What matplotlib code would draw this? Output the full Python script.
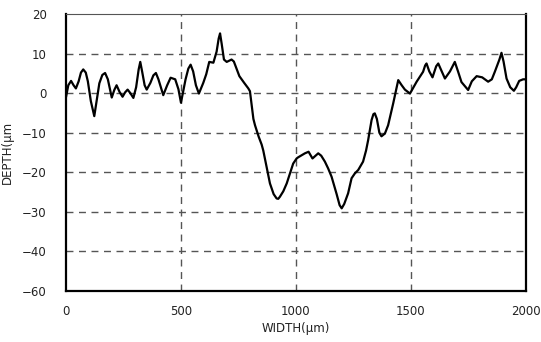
import matplotlib
matplotlib.use("Agg")
import matplotlib.pyplot as plt

width_um = [0, 10, 22, 33, 43, 55, 65, 75, 86, 95, 108, 123, 133, 145, 158, 170, 182, 199, 210, 220, 233, 246,
            257, 268, 280, 293, 305, 316, 323, 331, 342, 351, 367, 380, 391, 402, 423, 440, 455, 475, 489, 500,
            510, 520, 532, 542, 553, 565, 578, 597, 610, 623, 641, 655, 664, 670, 677, 687, 699, 720, 730, 754,
            775, 793, 800, 815, 822, 838, 851, 858, 872, 887, 903, 916, 923, 930, 945, 960,
            974, 988, 1003, 1010, 1039, 1055, 1072, 1097, 1110, 1126, 1140, 1155, 1177, 1190, 1199, 1210, 1227,
            1242, 1256, 1271, 1292, 1305, 1314, 1329, 1337, 1343, 1352, 1363, 1372, 1387, 1401, 1423, 1445,
            1460, 1474, 1496, 1525, 1553, 1562, 1568, 1580, 1594, 1610, 1619, 1632, 1648, 1670, 1691, 1705,
            1720, 1749, 1765, 1786, 1810, 1836, 1852, 1865, 1885, 1894, 1903, 1916, 1932, 1948, 1958, 1971,
            1988, 2000]
depth_um = [-1.0, 2.0, 3.1, 2.0, 1.2, 3.0, 5.2, 6.0, 5.2, 3.0, -2.0, -5.8, -2.0, 2.5, 4.6, 5.1, 3.5, -1.1, 0.8, 2.0, 0.3, -0.9,
            0.2, 0.9, 0.0, -1.2, 1.5, 6.0, 7.9, 5.5, 2.0, 0.9, 2.6, 4.5, 5.1, 3.5, -0.5, 2.0, 3.9, 3.5, 1.0, -2.4,
            0.5, 3.5, 6.2, 7.2, 5.5, 2.0, -0.1, 2.6, 4.8, 7.9, 7.7, 10.5, 13.8, 15.1, 12.5, 8.5, 7.9, 8.5, 8.0, 4.3,
            2.6, 1.2, 0.5, -6.5, -8.1, -11.0, -13.0, -14.5, -18.5, -22.8, -25.5, -26.6, -26.7, -26.2, -24.8, -22.8,
            -20.3, -17.8, -16.5, -16.2, -15.2, -14.8, -16.5, -15.2, -15.8, -17.3, -19.0, -21.1, -25.5, -28.3, -29.1, -28.0, -25.3,
            -21.5, -20.3, -19.4, -17.3, -14.5, -11.9, -6.8, -5.3, -5.1, -6.5, -10.0, -10.9, -10.2, -8.1, -2.6, 3.3,
            2.0, 0.9, -0.1, 2.9, 5.4, 7.0, 7.5, 5.5, 4.0, 6.8, 7.5, 5.8, 3.7, 5.5, 7.9, 5.5,
            2.8, 0.8, 3.0, 4.3, 4.0, 2.9, 3.5, 5.4, 8.5, 10.2, 8.0, 3.7, 1.5, 0.6, 1.5, 3.1,
            3.5, 3.5]

x_ticks = [0, 500, 1000, 1500, 2000]
x_tick_labels = ["0", "500", "1000", "1500", "2000"]
y_ticks = [20, 10, 0, -10, -20, -30, -40, -50]
y_tick_labels = ["20", "10", "0", "\u221210", "\u221220", "\u221230", "\u221240", "\u221260"]

fig = plt.figure(figsize=(5.41, 3.42), dpi=100)
ax = fig.add_axes([0.122, 0.149, 0.850, 0.810])

ax.plot(width_um, depth_um, color="black", lw=1.6, solid_joinstyle="round", solid_capstyle="round")

ax.set_xlim(0, 2000)
ax.set_ylim(-50, 20)
ax.set_xticks(x_ticks)
ax.set_xticklabels(x_tick_labels)
ax.set_yticks(y_ticks)
ax.set_yticklabels(y_tick_labels)
ax.tick_params(length=0, labelsize=8.5, pad=10, colors="#222222")
ax.tick_params(axis="y", pad=14)

for g in [500, 1000, 1500]:
    ax.axvline(g, color="#555555", lw=1.0, ls=(0, (5, 4)), zorder=0)
for g in [10, 0, -10, -20, -30, -40]:
    ax.axhline(g, color="#555555", lw=1.0, ls=(0, (5, 4)), zorder=0)

for s in ["left", "bottom", "right"]:
    ax.spines[s].set_linewidth(1.6)
    ax.spines[s].set_color("black")
ax.spines["top"].set_linewidth(0.8)
ax.spines["top"].set_color("#555555")

ax.set_xlabel("WIDTH(\u03bcm)", fontsize=8.5, labelpad=3, color="#222222")
ax.set_ylabel("DEPTH(\u03bcm", fontsize=8.5, labelpad=6, color="#222222")

fig.savefig("out.png", dpi=100)
